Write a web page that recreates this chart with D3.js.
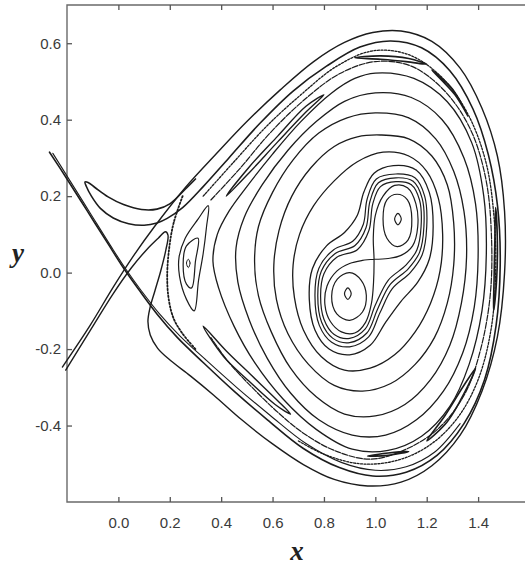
<!DOCTYPE html>
<html>
<head>
<meta charset="utf-8">
<script src="https://cdn.jsdelivr.net/npm/d3@7"></script>
<style>
  body { margin: 0; background: #fff; }
  svg { display: block; }
</style>
</head>
<body>
<div id="chart"></div>
<script>
const width = 525;
const height = 571;

// tick values
const xTicks = [0.0, 0.2, 0.4, 0.6, 0.8, 1.0, 1.2, 1.4];
const yTicks = [-0.4, -0.2, 0.0, 0.2, 0.4, 0.6];

// outer boundary: lobe left edge -> lobe tip -> around the basin -> back down the unstable line
const outerCurve = [[-0.205,-0.255],[-0.11,-0.152],[-0.02,-0.055],[0.05,0.012],[0.11,0.06],[0.155,0.09],[0.183,0.107],[0.193,0.098],[0.185,0.06],[0.165,0.005],[0.142,-0.048],[0.123,-0.092],[0.115,-0.128],[0.124,-0.163],[0.153,-0.198],[0.203,-0.23],[0.28,-0.27],[0.37,-0.32],[0.48,-0.385],[0.6,-0.448],[0.72,-0.502],[0.84,-0.541],[0.97,-0.558],[1.1,-0.548],[1.22,-0.505],[1.33,-0.425],[1.415,-0.31],[1.475,-0.168],[1.503,0.0],[1.503,0.16],[1.475,0.305],[1.415,0.43],[1.33,0.535],[1.22,0.605],[1.1,0.632],[0.99,0.628],[0.88,0.602],[0.76,0.552],[0.63,0.478],[0.5,0.395],[0.38,0.31],[0.26,0.222],[0.14,0.12],[0.06,0.045],[-0.02,-0.038],[-0.11,-0.138],[-0.218,-0.247]];

// stable line from upper left, around the basin, ending in the horn
const stableCurve = [[-0.268,0.315],[-0.2,0.245],[-0.12,0.16],[-0.04,0.075],[0.02,0.012],[0.08,-0.045],[0.15,-0.108],[0.23,-0.17],[0.33,-0.235],[0.45,-0.31],[0.58,-0.385],[0.72,-0.46],[0.86,-0.51],[0.99,-0.532],[1.12,-0.522],[1.24,-0.478],[1.345,-0.395],[1.425,-0.28],[1.47,-0.138],[1.486,0.02],[1.476,0.172],[1.44,0.308],[1.38,0.428],[1.29,0.528],[1.18,0.588],[1.06,0.606],[0.94,0.59],[0.81,0.54],[0.68,0.475],[0.55,0.39],[0.43,0.3],[0.33,0.225],[0.25,0.17],[0.19,0.142],[0.15,0.13],[0.1,0.124],[0.04,0.128],[-0.02,0.143],[-0.07,0.168],[-0.105,0.2],[-0.125,0.226],[-0.13,0.237],[-0.118,0.236],[-0.09,0.222],[-0.04,0.198],[0.02,0.178],[0.09,0.165],[0.15,0.166],[0.2,0.18],[0.26,0.218],[0.3,0.245]];

const stableCurve2 = [[-0.255,0.312],[-0.19,0.242],[-0.11,0.156],[-0.03,0.07],[0.03,0.008],[0.09,-0.048],[0.16,-0.108],[0.24,-0.166],[0.34,-0.228],[0.46,-0.3],[0.59,-0.373],[0.73,-0.447],[0.87,-0.497],[1.0,-0.517],[1.12,-0.508],[1.23,-0.47],[1.33,-0.395]];

// chaotic layer lines
const bandA = [[0.33,0.2],[0.45,0.29],[0.58,0.385],[0.71,0.465],[0.85,0.54],[0.99,0.58],[1.13,0.57],[1.26,0.51],[1.36,0.415],[1.43,0.29],[1.462,0.145],[1.468,-0.005],[1.45,-0.15],[1.4,-0.28],[1.32,-0.38],[1.21,-0.452],[1.08,-0.492],[0.94,-0.5],[0.8,-0.475],[0.7,-0.44]];
const bandB = [[0.36,0.19],[0.47,0.27],[0.59,0.365],[0.72,0.45],[0.86,0.52],[1.0,0.552],[1.14,0.54],[1.27,0.475],[1.37,0.375],[1.43,0.245],[1.452,0.095],[1.447,-0.06],[1.41,-0.2],[1.35,-0.315],[1.25,-0.405],[1.12,-0.462],[0.98,-0.488],[0.84,-0.465],[0.72,-0.42],[0.62,-0.365],[0.52,-0.3],[0.43,-0.235],[0.36,-0.17]];
const dotsLeft = [[0.25,0.2],[0.215,0.13],[0.197,0.06],[0.19,-0.01],[0.196,-0.07],[0.215,-0.12],[0.25,-0.16],[0.3,-0.2]];

// island chain in the chaotic layer
const lensUpperLeft = [[0.42,0.2],[0.51,0.262],[0.62,0.342],[0.73,0.42],[0.8,0.465],[0.73,0.435],[0.62,0.357],[0.51,0.277]];
const lensTop = [[0.92,0.562],[1.02,0.567],[1.13,0.56],[1.2,0.545],[1.12,0.552],[1.02,0.558]];
const lensTopRight = [[1.22,0.53],[1.3,0.48],[1.36,0.41],[1.31,0.465]];
const lensRight = [[1.468,0.17],[1.475,0.08],[1.472,-0.02],[1.46,-0.1],[1.462,-0.02],[1.465,0.08]];
const lensLowerRight = [[1.2,-0.44],[1.28,-0.39],[1.35,-0.31],[1.39,-0.25],[1.34,-0.3],[1.27,-0.375]];
const lensBottom = [[0.97,-0.48],[1.05,-0.478],[1.13,-0.468],[1.05,-0.472]];
const lensLowerLeft = [[0.33,-0.14],[0.42,-0.205],[0.52,-0.27],[0.62,-0.335],[0.67,-0.37],[0.61,-0.345],[0.51,-0.285],[0.41,-0.22]];

// island at the left
const islandOuter = [[0.35,0.175],[0.343,0.12],[0.33,0.05],[0.312,-0.02],[0.295,-0.1],[0.265,-0.07],[0.238,-0.01],[0.236,0.04],[0.26,0.09],[0.31,0.14]];
const islandInner = [[0.31,0.09],[0.3,0.03],[0.285,-0.04],[0.265,-0.03],[0.252,0.02],[0.265,0.07]];
const islandCore = [[0.272,0.035],[0.279,0.025],[0.272,0.013],[0.265,0.025]];

// regular rings, outer to inner
const ring6 = [[1.0,0.522],[1.15,0.508],[1.28,0.447],[1.375,0.34],[1.422,0.2],[1.432,0.05],[1.415,-0.1],[1.365,-0.24],[1.29,-0.35],[1.18,-0.428],[1.05,-0.465],[0.91,-0.462],[0.77,-0.41],[0.64,-0.33],[0.53,-0.235],[0.45,-0.14],[0.39,-0.04],[0.368,0.03],[0.385,0.1],[0.43,0.16],[0.5,0.225],[0.6,0.31],[0.71,0.395],[0.83,0.47],[0.92,0.508]];
const ring5 = [[1.0,0.47],[1.14,0.458],[1.26,0.4],[1.345,0.3],[1.39,0.18],[1.4,0.04],[1.385,-0.09],[1.34,-0.21],[1.265,-0.31],[1.16,-0.385],[1.04,-0.425],[0.91,-0.425],[0.78,-0.385],[0.67,-0.315],[0.58,-0.225],[0.51,-0.125],[0.465,-0.025],[0.458,0.065],[0.49,0.145],[0.56,0.23],[0.66,0.32],[0.77,0.395],[0.88,0.448]];
const ring4 = [[1.0,0.418],[1.13,0.405],[1.235,0.35],[1.305,0.265],[1.345,0.16],[1.355,0.04],[1.335,-0.08],[1.29,-0.19],[1.215,-0.28],[1.115,-0.345],[1.0,-0.375],[0.88,-0.37],[0.77,-0.325],[0.67,-0.25],[0.595,-0.155],[0.545,-0.06],[0.53,0.03],[0.545,0.12],[0.6,0.21],[0.68,0.295],[0.78,0.365],[0.89,0.405]];
const ring3 = [[1.02,0.36],[1.13,0.35],[1.22,0.305],[1.28,0.23],[1.305,0.13],[1.305,0.02],[1.28,-0.08],[1.23,-0.17],[1.155,-0.24],[1.06,-0.29],[0.95,-0.31],[0.84,-0.295],[0.74,-0.24],[0.66,-0.16],[0.615,-0.07],[0.605,0.02],[0.625,0.11],[0.675,0.2],[0.75,0.275],[0.84,0.33],[0.93,0.355]];
const ring2 = [[1.03,0.315],[1.13,0.305],[1.2,0.265],[1.245,0.195],[1.262,0.1],[1.252,0.005],[1.215,-0.08],[1.155,-0.155],[1.075,-0.215],[0.98,-0.25],[0.88,-0.255],[0.79,-0.22],[0.72,-0.15],[0.685,-0.065],[0.68,0.02],[0.705,0.1],[0.76,0.175],[0.84,0.24],[0.93,0.29]];
const ring1 = [[1.07,0.28],[1.16,0.268],[1.21,0.21],[1.225,0.12],[1.21,0.035],[1.165,-0.025],[1.1,-0.075],[1.04,-0.13],[0.98,-0.19],[0.9,-0.215],[0.82,-0.2],[0.765,-0.15],[0.743,-0.07],[0.755,0.01],[0.81,0.07],[0.88,0.105],[0.93,0.15],[0.955,0.21],[0.995,0.26]];

// curves hugging the figure eight
const hug3 = [[1.08,0.258],[1.154,0.248],[1.192,0.2],[1.2,0.12],[1.182,0.046],[1.136,0.0],[1.066,-0.042],[1.018,-0.105],[0.974,-0.168],[0.9,-0.194],[0.83,-0.182],[0.782,-0.138],[0.765,-0.06],[0.78,0.011],[0.838,0.06],[0.912,0.082],[0.953,0.126],[0.968,0.192],[1.004,0.245]];
const hug2 = [[1.08,0.248],[1.147,0.239],[1.182,0.195],[1.189,0.12],[1.172,0.053],[1.128,0.01],[1.058,-0.031],[1.009,-0.095],[0.967,-0.158],[0.9,-0.183],[0.835,-0.172],[0.791,-0.13],[0.776,-0.06],[0.79,0.004],[0.844,0.05],[0.921,0.071],[0.964,0.118],[0.979,0.186],[1.012,0.235]];
const hug1 = [[1.08,0.238],[1.14,0.23],[1.172,0.19],[1.178,0.12],[1.162,0.06],[1.12,0.02],[1.05,-0.02],[1.0,-0.085],[0.96,-0.148],[0.9,-0.172],[0.84,-0.162],[0.8,-0.122],[0.787,-0.06],[0.8,-0.003],[0.85,0.04],[0.93,0.06],[0.975,0.11],[0.99,0.18],[1.02,0.225]];

// figure eight separatrix (open path through the crossing twice)
const eightCurve = [[0.995,0.035],[0.95,0.032],[0.9,0.024],[0.85,0.004],[0.812,-0.035],[0.804,-0.085],[0.825,-0.128],[0.868,-0.155],[0.92,-0.158],[0.962,-0.13],[0.985,-0.08],[0.993,-0.025],[0.995,0.035],[0.992,0.09],[1.0,0.15],[1.03,0.2],[1.075,0.228],[1.125,0.222],[1.158,0.18],[1.165,0.12],[1.145,0.07],[1.1,0.045],[1.05,0.037],[0.995,0.035]];

// islands inside the two lobes
const upperLoop = [[1.085,0.205],[1.125,0.19],[1.142,0.14],[1.127,0.085],[1.085,0.068],[1.045,0.09],[1.03,0.14],[1.045,0.19]];
const lowerLoop = [[0.9,0.0],[0.945,-0.02],[0.965,-0.06],[0.95,-0.103],[0.9,-0.125],[0.85,-0.108],[0.83,-0.062],[0.852,-0.017]];
const upperCore = [[1.088,0.155],[1.101,0.14],[1.088,0.125],[1.075,0.14]];
const lowerCore = [[0.893,-0.04],[0.906,-0.055],[0.893,-0.07],[0.88,-0.055]];

// ---- drawing ----
const marginLeft = 67;
const marginTop = 5;
const plotBottom = 502;
const plotRight = 529.5;

const x = d3.scaleLinear().domain([-0.2, 1.6]).range([marginLeft, plotRight]);
const y = d3.scaleLinear().domain([-0.6, 0.7]).range([plotBottom, marginTop]);

const svg = d3.select("#chart").append("svg")
  .attr("width", width)
  .attr("height", height)
  .attr("viewBox", `0 0 ${width} ${height}`);

// frame
const frame = svg.append("g")
  .attr("stroke", "#6a6a6a")
  .attr("stroke-width", 1.4)
  .attr("fill", "none");
frame.append("path").attr("d", `M${plotRight},${marginTop}H${marginLeft}V${plotBottom}H${plotRight}`);

const fmt = d => d.toFixed(1);

// ticks and labels
const xAxis = svg.append("g")
  .attr("transform", `translate(0, ${plotBottom})`)
  .call(d3.axisBottom(x).tickValues(xTicks).tickFormat(fmt).tickSizeInner(-5).tickSizeOuter(0).tickPadding(15));
const xTop = svg.append("g")
  .attr("transform", `translate(0, ${marginTop})`)
  .call(d3.axisTop(x).tickValues(xTicks).tickFormat("").tickSizeInner(-5).tickSizeOuter(0));
const yAxis = svg.append("g")
  .attr("transform", `translate(${marginLeft}, 0)`)
  .call(d3.axisLeft(y).tickValues(yTicks).tickFormat(fmt).tickSizeInner(-5).tickSizeOuter(0).tickPadding(6));

[xAxis, xTop, yAxis].forEach(g => {
  g.select(".domain").remove();
  g.selectAll(".tick line").attr("stroke", "#555").attr("stroke-width", 1.3);
  g.selectAll(".tick text")
    .attr("fill", "#3a3a3a")
    .style("font-family", "'Liberation Sans', Arial, sans-serif")
    .style("font-size", "15px");
});

// axis titles
svg.append("text")
  .text("x")
  .attr("x", 297)
  .attr("y", 560)
  .attr("text-anchor", "middle")
  .style("font-family", "'Liberation Serif', 'Times New Roman', serif")
  .style("font-style", "italic")
  .style("font-weight", "bold")
  .style("font-size", "27px")
  .attr("fill", "#222");

svg.append("text")
  .text("y")
  .attr("x", 18)
  .attr("y", 262)
  .attr("text-anchor", "middle")
  .style("font-family", "'Liberation Serif', 'Times New Roman', serif")
  .style("font-style", "italic")
  .style("font-weight", "bold")
  .style("font-size", "27px")
  .attr("fill", "#222");

// curves
const openLine = d3.line()
  .x(d => x(d[0]))
  .y(d => y(d[1]))
  .curve(d3.curveCatmullRom.alpha(0.5));
const closedLine = d3.line()
  .x(d => x(d[0]))
  .y(d => y(d[1]))
  .curve(d3.curveCatmullRomClosed.alpha(0.5));

const curves = svg.append("g")
  .attr("fill", "none")
  .attr("stroke", "#1c1c1c")
  .attr("stroke-linejoin", "round")
  .attr("stroke-linecap", "round");

const openPaths = [
  { pts: outerCurve, w: 1.4 },
  { pts: stableCurve, w: 1.6 },
  { pts: stableCurve2, w: 1.1 },
  { pts: bandA, w: 1.3, dash: "2,1.5" },
  { pts: bandB, w: 1.2, dash: "6,1.5" },
  { pts: dotsLeft, w: 1.8, dash: "1.5,2" },
  { pts: eightCurve, w: 1.2 }
];
const closedPaths = [
  { pts: lensUpperLeft, w: 1.4 },
  { pts: lensTop, w: 1.6 },
  { pts: lensTopRight, w: 1.6 },
  { pts: lensRight, w: 1.6 },
  { pts: lensLowerRight, w: 1.6 },
  { pts: lensBottom, w: 1.6 },
  { pts: lensLowerLeft, w: 1.4 },
  { pts: islandOuter, w: 1.2 },
  { pts: islandInner, w: 1.2 },
  { pts: islandCore, w: 1.0 },
  { pts: ring6, w: 1.3 },
  { pts: ring5, w: 1.3 },
  { pts: ring4, w: 1.3 },
  { pts: ring3, w: 1.3 },
  { pts: ring2, w: 1.3 },
  { pts: ring1, w: 1.3 },
  { pts: hug3, w: 1.2 },
  { pts: hug2, w: 1.2 },
  { pts: hug1, w: 1.2 },
  { pts: upperLoop, w: 1.2 },
  { pts: lowerLoop, w: 1.2 },
  { pts: upperCore, w: 1.2 },
  { pts: lowerCore, w: 1.2 }
];

curves.selectAll(".open")
  .data(openPaths)
  .join("path")
    .attr("class", "open")
    .attr("stroke-width", d => d.w)
    .attr("stroke-dasharray", d => d.dash || null)
    .attr("d", d => openLine(d.pts));

curves.selectAll(".closed")
  .data(closedPaths)
  .join("path")
    .attr("class", "closed")
    .attr("stroke-width", d => d.w)
    .attr("d", d => closedLine(d.pts));
</script>
</body>
</html>
